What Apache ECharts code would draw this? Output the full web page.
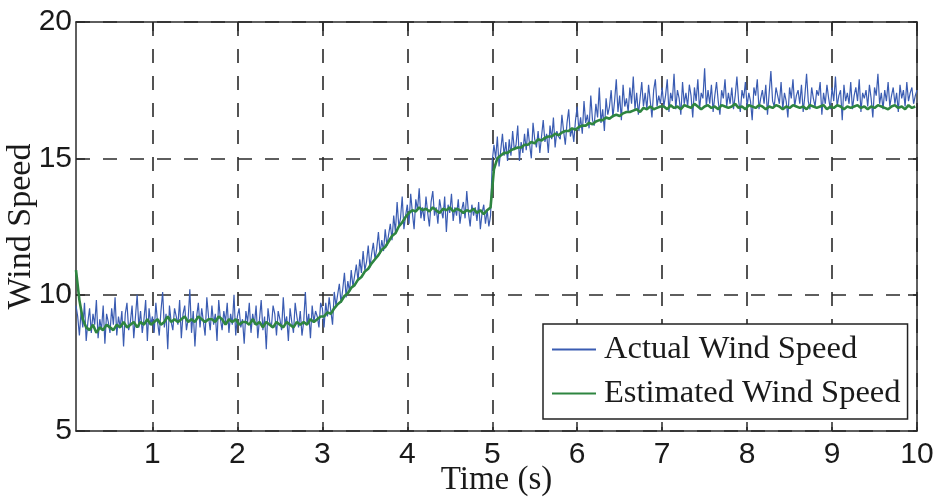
<!DOCTYPE html>
<html>
<head>
<meta charset="utf-8">
<script src="https://cdn.jsdelivr.net/npm/echarts@6/dist/echarts.min.js"></script>
<style>
html,body{margin:0;padding:0;background:#fff;}
#chart{width:940px;height:501px;}
</style>
</head>
<body>
<div id="chart"></div>
<script>
// sampling of the time axis (s)
const startTime = 0.1;
const actualStep = 0.02;
const estimatedStep = 0.04;

const xTicks = [1, 2, 3, 4, 5, 6, 7, 8, 9, 10];
const yTicks = [5, 10, 15, 20];

const actualSpeed = [
  9.6, 9.2, 8.5, 9.4, 8.8, 9.7, 8.3, 9.0, 9.5, 8.6,
  9.3, 8.9, 9.8, 8.4, 9.1, 8.7, 9.6, 8.2, 9.3, 9.0,
  8.6, 9.5, 8.9, 9.9, 8.5, 9.2, 8.8, 9.4, 8.1, 9.3,
  9.7, 8.7, 9.0, 9.6, 8.4, 9.2, 10.0, 8.8, 9.4, 8.6,
  9.1, 9.8, 8.3, 9.5, 8.9, 9.2, 8.6, 9.7, 9.0, 8.5,
  9.4, 10.1, 8.8, 9.3, 8.0, 9.6, 9.0, 8.7, 9.5, 9.2,
  8.9, 9.8, 8.4, 9.3, 9.6, 8.7, 9.1, 10.2, 8.6, 9.4,
  8.1, 9.2, 9.7, 8.8, 9.5, 9.0, 8.5, 9.9, 9.2, 8.7,
  9.6, 8.9, 9.3, 8.3, 9.8, 9.1, 8.7, 9.4, 9.0, 9.7,
  8.6, 9.3, 8.9, 10.0, 8.5, 9.2, 9.5, 8.8, 9.1, 8.2,
  9.4, 9.0, 9.7, 8.6, 9.3, 8.9, 9.6, 8.4, 9.1, 9.8,
  8.7, 9.2, 8.0, 9.5, 9.0, 8.8, 9.6, 9.3, 8.5, 9.4,
  9.1, 8.7, 9.9, 8.9, 9.2, 8.3, 9.5, 9.0, 8.6, 9.7,
  9.2, 8.8, 9.4, 8.5, 9.0, 10.1, 8.9, 9.3, 8.4, 9.6,
  9.0, 9.4, 9.2, 8.8, 9.7,
  9.5, 8.8, 9.7, 9.2, 9.9, 9.4, 8.9, 10.1, 9.6, 10.0,
  10.4, 9.7, 10.2, 10.8, 9.9, 10.5, 10.1, 10.9, 10.3, 10.7,
  11.1, 10.5, 11.3, 10.8, 11.6, 10.9, 11.2, 11.8, 11.0, 11.5,
  11.9, 11.3, 11.7, 12.3, 11.5, 12.0, 11.6, 12.4, 11.8, 12.2,
  12.6, 12.0, 12.9, 12.3, 13.4, 12.5, 12.8, 13.6, 12.4, 12.9,
  13.3, 12.6, 13.7, 13.0, 12.4, 13.5, 13.1, 13.9, 12.8, 13.2,
  12.7, 13.6, 13.0, 12.5, 13.4, 13.8, 12.9, 13.2, 12.6, 13.5,
  13.1, 12.8, 13.6, 12.3, 13.3, 13.0, 13.7, 12.7, 13.2, 12.9,
  13.5, 12.6, 13.1, 13.4, 12.8, 13.8, 13.0, 12.5, 13.3, 12.9,
  13.2, 12.7, 13.4, 12.4, 13.0, 13.3, 12.6, 13.1, 12.5, 12.9,
  14.9, 15.5, 15.0, 15.8, 14.7, 15.3, 15.9, 15.1, 15.6, 14.9,
  15.7, 15.1, 16.0, 15.3, 15.5, 16.2, 14.9, 15.6, 15.2, 15.9,
  15.3, 16.1, 15.5, 15.0, 16.3, 15.7, 15.4, 16.0, 15.2, 15.8,
  16.4, 15.6, 15.9, 15.2, 16.2, 15.7, 16.5, 15.4, 16.0, 15.8,
  15.7, 16.6, 16.0, 15.5, 16.3, 16.8, 15.8, 16.1, 15.6, 16.4,
  16.9, 16.0, 16.5, 15.9, 17.1, 16.3, 16.6, 16.1, 17.3, 16.4,
  16.2, 17.0, 16.5, 17.6, 16.3, 16.8, 16.0, 17.2, 16.6, 16.9,
  17.5, 16.5, 17.1, 17.9, 16.7, 17.3, 16.4, 17.7, 16.9, 17.2,
  16.7, 17.6, 17.0, 18.0, 16.8, 17.4, 16.6, 17.2, 17.8, 16.9,
  17.4, 16.8, 17.7, 17.1, 16.5, 17.5, 17.9, 16.9, 17.3, 17.0,
  17.6, 16.9, 17.3, 17.9, 16.7, 17.4, 17.1, 18.1, 16.8, 17.5,
  17.2, 16.6, 17.8, 17.0, 17.4, 16.9, 17.7, 17.3, 16.5, 17.6,
  17.1, 17.9, 16.8, 17.4, 17.2, 18.3, 16.9, 17.5, 17.0, 17.7,
  16.7, 17.3, 17.8, 17.1, 16.6, 17.5, 17.2, 17.9, 16.9, 17.4,
  17.0, 17.6, 16.8, 17.3, 18.0, 17.1, 16.7, 17.5, 17.2, 17.8,
  16.9, 17.4, 17.1, 16.4, 17.6, 17.3, 17.9, 16.8, 17.2, 17.5,
  17.0, 17.7, 16.6, 17.4, 18.2, 17.1, 16.9, 17.6, 17.3, 17.0,
  17.8, 16.8, 17.4, 17.1, 16.5, 17.6, 17.2, 17.9, 16.9, 17.3,
  17.5, 17.0, 17.7, 16.7, 17.3, 18.1, 17.1, 16.8, 17.6, 17.2,
  16.9, 17.5, 17.3, 17.8, 16.6, 17.4, 17.0, 17.7, 17.2, 16.8,
  17.6, 17.1, 18.0, 16.9, 17.3, 17.5, 16.4, 17.7, 17.1, 17.4,
  17.0, 17.8, 16.8, 17.3, 17.6, 17.1, 17.9, 16.7, 17.4, 17.2,
  17.5, 16.9, 17.7, 17.2, 16.5, 17.6, 17.3, 18.1, 17.0, 17.4,
  16.8, 17.5, 17.1, 17.8, 16.9, 17.3, 17.6, 17.0, 17.4, 16.7,
  17.7, 17.2, 17.5, 16.9, 17.8, 17.1, 17.4, 17.6, 17.0, 17.3,
  17.5
];

const estimatedSpeed = [
  10.9, 9.8, 9.1, 8.8, 8.7, 8.9, 8.6, 8.8, 8.7, 8.9,
  8.8, 8.7, 8.9, 8.8, 9.0, 8.8, 8.9, 9.0, 8.8, 9.0,
  8.9, 9.1, 8.9, 9.0, 9.1, 8.9, 9.0, 9.2, 9.0, 9.1,
  9.0, 9.1, 9.2, 9.0, 9.1, 9.0, 9.2, 9.1, 9.0, 9.1,
  9.1, 9.0, 9.2, 9.1, 8.9, 9.1, 9.0, 9.1, 8.9, 9.0,
  9.0, 8.9, 9.1, 8.9, 9.0, 8.8, 9.0, 8.9, 8.8, 9.0,
  8.9, 8.8, 9.0, 8.9, 8.8, 9.0, 8.9, 9.0, 8.9, 9.1,
  9.0, 9.1, 9.2,
  9.2, 9.35, 9.3, 9.5, 9.65, 9.75, 9.95, 10.05, 10.25, 10.35,
  10.55, 10.65, 10.85, 10.95, 11.15, 11.3, 11.45, 11.65, 11.75, 11.95,
  12.15, 12.25, 12.5, 12.65, 12.85,
  13.0, 13.1, 13.05, 13.2, 13.1, 13.15, 13.05, 13.2, 13.1, 13.0,
  13.15, 13.1, 13.2, 13.05, 13.15, 13.1, 13.0, 13.1, 13.05, 13.15,
  13.0, 13.1, 12.95, 13.1, 13.2,
  14.6, 15.0, 15.1, 15.2, 15.2, 15.3, 15.35, 15.4, 15.4, 15.5,
  15.5, 15.6, 15.55, 15.7, 15.65, 15.75, 15.8, 15.8, 15.9, 15.85,
  15.95, 16.0, 16.0, 16.1, 16.05, 16.15, 16.2, 16.2, 16.3, 16.25,
  16.35, 16.4, 16.4, 16.5, 16.45, 16.55, 16.6, 16.55, 16.65, 16.7,
  16.7, 16.75, 16.8, 16.7, 16.85, 16.8, 16.9, 16.8, 16.85, 16.9,
  16.9, 16.8, 16.95, 16.85, 16.9, 16.8, 16.95, 16.9, 16.85, 17.0,
  16.9, 16.8, 16.9, 16.95, 16.85, 16.9, 16.8, 16.95, 16.9, 16.85,
  16.9, 17.0, 16.85, 16.9, 16.8, 16.95, 16.9, 16.85, 16.95, 16.9,
  16.8, 16.9, 16.85, 16.95, 16.9, 16.8, 16.9, 16.85, 16.95, 16.9,
  16.85, 16.9, 16.8, 16.95, 16.9, 16.85, 16.9, 16.95, 16.8, 16.9,
  16.85, 16.95, 16.9, 16.8, 16.9, 16.85, 16.9, 16.95, 16.85, 16.9,
  16.8, 16.9, 16.85, 16.95, 16.9, 16.85, 16.8, 16.9, 16.95, 16.85,
  16.9, 16.8, 16.95, 16.85, 16.9
];

const toPairs = (arr, step) => arr.map((v, i) => [+(startTime + i * step).toFixed(3), v]);

const chart = echarts.init(document.getElementById('chart'), null, {renderer: 'canvas'});

const axisColor = '#2a2a2a';
const sansFont = '"Liberation Sans", Arial, Helvetica, sans-serif';
const serifFont = '"Liberation Serif", "Times New Roman", serif';
const gridDash = {color: '#2a2a2a', width: 1.6, type: [14, 13]};

const option = {
  animation: false,
  backgroundColor: '#fff',
  grid: {left: 76, right: 23, top: 22, bottom: 70, containLabel: false, outerBoundsMode: 'none'},
  legend: {
    left: 543,
    top: 324,
    orient: 'vertical',
    backgroundColor: '#fff',
    borderColor: '#222',
    borderWidth: 1.5,
    borderRadius: 0,
    padding: [5, 7, 5, 9],
    itemGap: 3,
    itemWidth: 44,
    itemHeight: 2,
    icon: 'rect',
    textStyle: {fontFamily: serifFont, fontSize: 32.5, color: '#1a1a1a', lineHeight: 41, padding: [0, 0, 0, 3]},
    data: ['Actual Wind Speed', 'Estimated Wind Speed']
  },
  xAxis: [{
    type: 'value',
    min: startTime,
    max: 10,
    name: 'Time (s)',
    nameLocation: 'middle',
    nameGap: 33,
    nameMoveOverlap: false,
    nameTextStyle: {fontFamily: serifFont, fontSize: 33, color: '#1a1a1a', verticalAlign: 'top'},
    axisLine: {show: true, onZero: false, lineStyle: {color: axisColor, width: 1.5}},
    axisTick: {show: true, inside: true, length: 9, customValues: xTicks, lineStyle: {color: axisColor, width: 1.5}},
    axisLabel: {show: true, customValues: xTicks, margin: 9, fontFamily: sansFont, fontSize: 30, color: '#1a1a1a'},
    splitLine: {show: true, lineStyle: gridDash}
  }, {
    type: 'value',
    position: 'top',
    min: startTime,
    max: 10,
    axisLine: {show: true, onZero: false, lineStyle: {color: axisColor, width: 1.5}},
    axisTick: {show: true, inside: true, length: 9, customValues: xTicks, lineStyle: {color: axisColor, width: 1.5}},
    axisLabel: {show: false},
    splitLine: {show: false}
  }],
  yAxis: [{
    type: 'value',
    min: yTicks[0],
    max: yTicks[yTicks.length - 1],
    interval: 5,
    name: 'Wind Speed',
    nameLocation: 'middle',
    nameGap: 38,
    nameMoveOverlap: false,
    nameTextStyle: {fontFamily: serifFont, fontSize: 34, color: '#1a1a1a'},
    axisLine: {show: true, onZero: false, lineStyle: {color: axisColor, width: 1.5}},
    axisTick: {show: true, inside: true, length: 9, lineStyle: {color: axisColor, width: 1.5}},
    axisLabel: {show: true, margin: 4, fontFamily: sansFont, fontSize: 30, color: '#1a1a1a'},
    splitLine: {show: true, lineStyle: gridDash}
  }, {
    type: 'value',
    position: 'right',
    min: yTicks[0],
    max: yTicks[yTicks.length - 1],
    interval: 5,
    axisLine: {show: true, onZero: false, lineStyle: {color: axisColor, width: 1.5}},
    axisTick: {show: true, inside: true, length: 9, lineStyle: {color: axisColor, width: 1.5}},
    axisLabel: {show: false},
    splitLine: {show: false}
  }],
  series: [{
    name: 'Actual Wind Speed',
    type: 'line',
    xAxisIndex: 0,
    yAxisIndex: 0,
    symbol: 'none',
    color: '#3a5cb2',
    lineStyle: {color: '#3a5cb2', width: 1.2},
    data: toPairs(actualSpeed, actualStep),
    z: 2
  }, {
    name: 'Estimated Wind Speed',
    type: 'line',
    xAxisIndex: 0,
    yAxisIndex: 0,
    symbol: 'none',
    color: '#2e8540',
    lineStyle: {color: '#2e8540', width: 2.6},
    data: toPairs(estimatedSpeed, estimatedStep),
    z: 3
  }]
};
chart.setOption(option);
</script>
</body>
</html>
